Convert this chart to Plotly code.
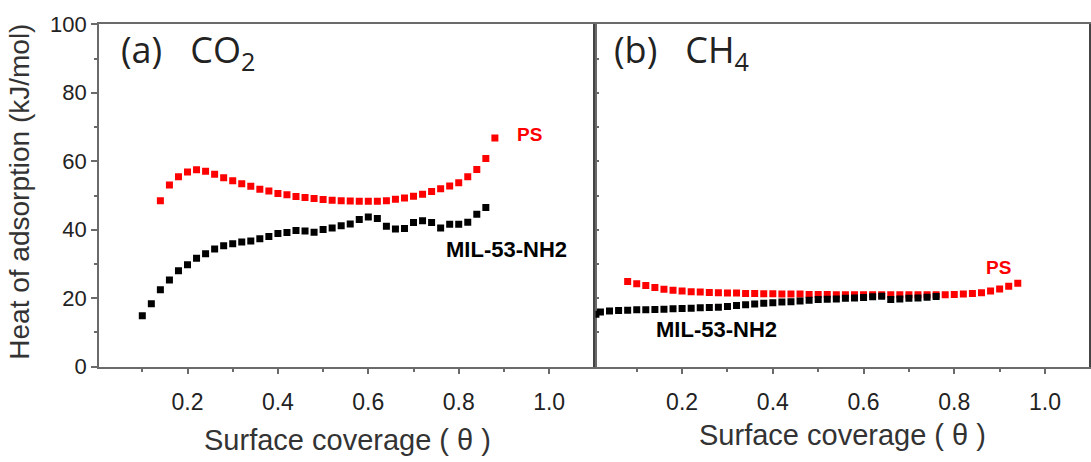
import plotly.graph_objects as go

# ---------------- data ----------------
# (a) CO2
co2_ps_x = [0.14, 0.16, 0.18, 0.20, 0.22, 0.24, 0.26, 0.28, 0.30, 0.32, 0.34, 0.36, 0.38,
            0.40, 0.42, 0.44, 0.46, 0.48, 0.50, 0.52, 0.54, 0.56, 0.58, 0.60, 0.62, 0.64,
            0.66, 0.68, 0.70, 0.72, 0.74, 0.76, 0.78, 0.80, 0.82, 0.84, 0.86, 0.88]
co2_ps_y = [48.5, 53.1, 55.5, 56.9, 57.5, 57.1, 56.2, 55.2, 54.3, 53.4, 52.7, 51.8, 51.3,
            50.6, 50.2, 49.7, 49.4, 49.1, 48.8, 48.6, 48.5, 48.4, 48.3, 48.3, 48.3, 48.5,
            48.9, 49.3, 49.8, 50.4, 51.2, 52.0, 52.8, 53.7, 55.5, 57.6, 60.8, 66.8]

co2_mil_x = [0.10, 0.12, 0.14, 0.16, 0.18, 0.20, 0.22, 0.24, 0.26, 0.28, 0.30, 0.32, 0.34,
             0.36, 0.38, 0.40, 0.42, 0.44, 0.46, 0.48, 0.50, 0.52, 0.54, 0.56, 0.58, 0.60,
             0.62, 0.64, 0.66, 0.68, 0.70, 0.72, 0.74, 0.76, 0.78, 0.80, 0.82, 0.84, 0.86]
co2_mil_y = [14.9, 18.4, 22.5, 25.3, 28.0, 29.8, 31.7, 33.0, 34.4, 35.3, 35.9, 36.4, 36.7,
             37.4, 38.0, 38.9, 39.2, 39.8, 39.6, 39.3, 40.1, 40.5, 41.2, 41.7, 43.0, 43.7,
             43.3, 41.0, 40.2, 40.4, 42.1, 42.6, 42.1, 40.5, 41.6, 41.6, 42.2, 44.5, 46.5]

# (b) CH4
ch4_ps_x = [0.08, 0.10, 0.12, 0.14, 0.16, 0.18, 0.20, 0.22, 0.24, 0.26, 0.28, 0.30, 0.32,
            0.34, 0.36, 0.38, 0.40, 0.42, 0.44, 0.46, 0.48, 0.50, 0.52, 0.54, 0.56, 0.58,
            0.60, 0.62, 0.64, 0.66, 0.68, 0.70, 0.72, 0.74, 0.76, 0.78, 0.80, 0.82, 0.84,
            0.86, 0.88, 0.90, 0.92, 0.94]
ch4_ps_y = [24.9, 24.2, 23.7, 23.1, 22.6, 22.3, 22.1, 21.9, 21.8, 21.7, 21.6, 21.5, 21.5,
            21.4, 21.4, 21.3, 21.3, 21.2, 21.2, 21.2, 21.1, 21.1, 21.1, 21.0, 21.0, 21.0,
            21.0, 21.0, 21.0, 21.0, 21.0, 21.0, 21.0, 21.0, 21.0, 21.0, 21.1, 21.2, 21.4,
            21.6, 22.1, 22.7, 23.5, 24.4]

ch4_mil_x = [0.01, 0.02, 0.04, 0.06, 0.08, 0.10, 0.12, 0.14, 0.16, 0.18, 0.20, 0.22, 0.24,
             0.26, 0.28, 0.30, 0.32, 0.34, 0.36, 0.38, 0.40, 0.42, 0.44, 0.46, 0.48, 0.50,
             0.52, 0.54, 0.56, 0.58, 0.60, 0.62, 0.64, 0.66, 0.68, 0.70, 0.72, 0.74, 0.76]
ch4_mil_y = [15.3, 16.0, 16.3, 16.4, 16.5, 16.6, 16.6, 16.7, 16.8, 16.9, 17.0, 17.1, 17.2,
             17.3, 17.4, 17.6, 17.9, 18.1, 18.3, 18.5, 18.7, 18.9, 19.0, 19.2, 19.4, 19.6,
             19.7, 19.8, 20.0, 20.1, 20.2, 20.4, 20.6, 19.6, 19.8, 20.0, 20.1, 20.3, 20.5]

x_ticks = [0.2, 0.4, 0.6, 0.8, 1.0]
x_tick_text = ["0.2", "0.4", "0.6", "0.8", "1.0"]
y_ticks = [0, 20, 40, 60, 80, 100]

RED = "#ff0000"
BLACK = "#000000"
FRAME = "#6a6a6a"
TXT = "#222222"
FONT = "Liberation Sans, Arial, sans-serif"

W, H = 1091, 462
# pixel layout
L0, L1 = 99, 596        # left panel
R0, R1 = 596, 1090      # right panel
TOP, BOT = 13, 375


def px(x):
    return x / W


def py(y):
    return 1 - y / H


fig = go.Figure()

mk = dict(symbol="square", size=7, line=dict(width=0))
fig.add_trace(go.Scatter(x=co2_mil_x, y=co2_mil_y, mode="markers",
                         marker=dict(color=BLACK, **mk), xaxis="x", yaxis="y"))
fig.add_trace(go.Scatter(x=co2_ps_x, y=co2_ps_y, mode="markers",
                         marker=dict(color=RED, **mk), xaxis="x", yaxis="y"))
fig.add_trace(go.Scatter(x=ch4_ps_x, y=ch4_ps_y, mode="markers",
                         marker=dict(color=RED, **mk), xaxis="x2", yaxis="y2"))
fig.add_trace(go.Scatter(x=ch4_mil_x, y=ch4_mil_y, mode="markers",
                         marker=dict(color=BLACK, **mk), xaxis="x2", yaxis="y2"))

xcommon = dict(
    tickmode="array", tickvals=x_ticks, ticktext=x_tick_text,
    ticks="outside", ticklen=6, tickwidth=1.5, tickcolor=FRAME,
    ticklabelstandoff=8,
    minor=dict(tickmode="array", tickvals=[0.1, 0.3, 0.5, 0.7, 0.9], ticks="outside",
               ticklen=4, tickwidth=1.5, tickcolor=FRAME),
    showline=True, linecolor=FRAME, linewidth=1.5, mirror=True,
    showgrid=False, zeroline=False,
    tickfont=dict(family=FONT, size=23, color=TXT),
)

fig.update_layout(
    width=W, height=H,
    margin=dict(l=0, r=0, t=0, b=0),
    paper_bgcolor="white", plot_bgcolor="white",
    showlegend=False,
    xaxis=dict(domain=[px(L0), px(L1)], range=[0.004, 1.1025], anchor="y", **xcommon),
    xaxis2=dict(domain=[px(R0), px(R1)], range=[0.009, 1.097], anchor="y2", **xcommon),
    yaxis=dict(domain=[py(BOT), py(TOP)], range=[0, 100], anchor="x",
               tickmode="array", tickvals=y_ticks,
               ticks="outside", ticklen=6, tickwidth=1.5, tickcolor=FRAME,
               minor=dict(dtick=10, ticks="outside", ticklen=3, tickwidth=1.5, tickcolor=FRAME),
               showline=True, linecolor=FRAME, linewidth=1.5, mirror=True,
               showgrid=False, zeroline=False,
               tickfont=dict(family=FONT, size=22, color=TXT)),
    yaxis2=dict(domain=[py(BOT), py(TOP)], range=[0, 100], anchor="x2",
                tickmode="linear", tick0=0, dtick=10,
                ticks="inside", ticklen=4, tickwidth=1.5, tickcolor=FRAME,
                showticklabels=False,
                showline=True, linecolor="#444444", linewidth=2, mirror=True,
                showgrid=False, zeroline=False),
)

ann = []
lab = dict(family=FONT, size=22, color=BLACK)
ps_font = dict(family=FONT, size=19, color=RED)
ann.append(dict(x=0.956, y=67.7, xref="x", yref="y", text="<b>PS</b>", showarrow=False,
                font=ps_font))
ann.append(dict(x=0.905, y=34.3, xref="x", yref="y", text="<b>MIL-53-NH2</b>", showarrow=False,
                font=lab))
ann.append(dict(x=0.8965, y=29.0, xref="x2", yref="y2", text="<b>PS</b>", showarrow=False,
                font=ps_font))
ann.append(dict(x=0.2766, y=10.8, xref="x2", yref="y2", text="<b>MIL-53-NH2</b>", showarrow=False,
                font=lab))

panel_font = dict(family="Open Sans, sans-serif", size=36, color="#222222")
ann.append(dict(x=px(119), y=py(42), xref="paper", yref="paper", xanchor="left", yanchor="middle",
                text="(a)   CO<sub>2</sub>", showarrow=False, font=panel_font))
ann.append(dict(x=px(613), y=py(42), xref="paper", yref="paper", xanchor="left", yanchor="middle",
                text="(b)   CH<sub>4</sub>", showarrow=False, font=panel_font))

title_font = dict(family=FONT, size=29, color="#333333")
ann.append(dict(x=px(20), y=py(190), xref="paper", yref="paper", xanchor="center", yanchor="middle",
                text="Heat of adsorption (kJ/mol)", textangle=-90, showarrow=False,
                font=dict(family=FONT, size=28, color="#333333")))
ann.append(dict(x=px(348), y=py(453), xref="paper", yref="paper", xanchor="center", yanchor="middle",
                text="Surface coverage ( θ )", showarrow=False, font=title_font))
ann.append(dict(x=px(843), y=py(447), xref="paper", yref="paper", xanchor="center", yanchor="middle",
                text="Surface coverage ( θ )", showarrow=False, font=title_font))

fig.update_layout(annotations=ann)

fig.write_html("out.html")
